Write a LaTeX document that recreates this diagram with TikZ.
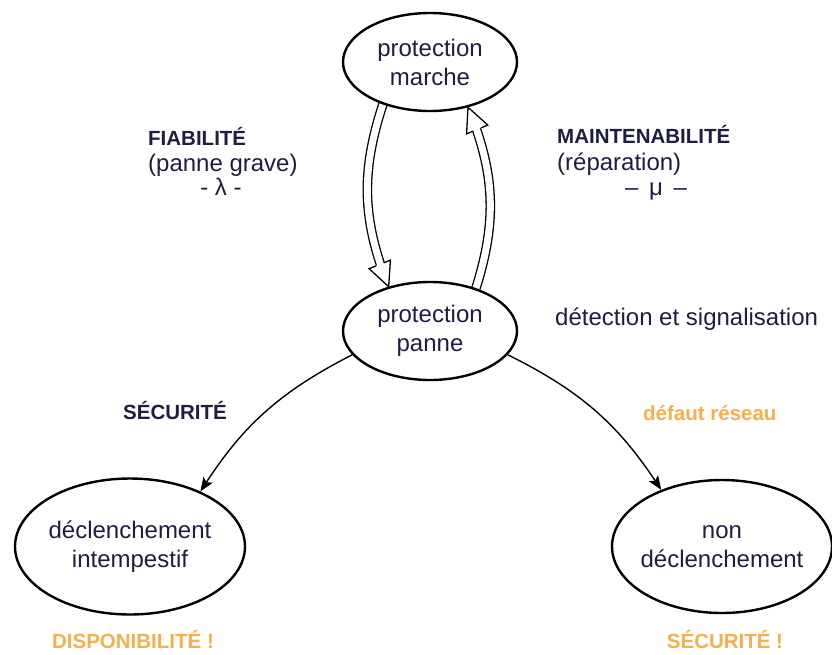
\documentclass[tikz,border=0pt]{standalone}
\usepackage{fontspec}
\setmainfont{Liberation Sans}
\usetikzlibrary{shapes.geometric,arrows.meta,decorations.markings,backgrounds,positioning}

\definecolor{ink}{RGB}{30,30,65}
\definecolor{warn}{RGB}{245,175,75}

\tikzset{
  state/.style={ellipse, draw=black, line width=2.4pt, inner sep=0pt, inner xsep=-12pt,
    font=\fontsize{24}{29}\selectfont, text=ink, align=center},
  txt/.style={font=\fontsize{24}{25}\selectfont, text=ink, inner sep=0pt},
  tag/.style={font=\bfseries\fontsize{20.5}{22}\selectfont, text=ink, inner sep=0pt},
  alert/.style={tag, text=warn},
  flow/.style={line width=1.4pt, -{Stealth[length=14pt, width=11pt, inset=3pt]}},
  % double transition: black band, white core, hollow head
  dbl/.style={draw=white, line width=7pt, preaction={draw=black, line width=9.6pt},
    decoration={markings, mark=at position 1 with {
      \fill[white] (-24pt,-5.6pt) rectangle (0pt,5.6pt);
      \draw[black, line width=1.3pt, line join=miter]
        (-24pt,4.15pt) -- (-24pt,11.5pt) -- (0pt,0pt) -- (-24pt,-11.5pt) -- (-24pt,-4.15pt);
    }},
    postaction={decorate}}
}

\begin{document}
\begin{tikzpicture}[x=1pt, y=-1pt]
\useasboundingbox (0,0) rectangle (832,654);

% states
\node[state, minimum width=174pt, minimum height=98pt] (marche) at (430,62) {protection\\marche};
\node[state, minimum width=174pt, minimum height=98pt] (panne) at (430,331) {protection\\panne};
\node[state, minimum width=230pt, minimum height=136pt] (intemp) at (130,546.5) {déclenchement\\intempestif};
\node[state, minimum width=220pt, minimum height=133pt] (nondecl) at (722,546.5) {non\\déclenchement};

% labels
\node[tag, anchor=base west] (fiab) at (148,145) {FIABILITÉ};
\node[txt, anchor=base west] (fiabcause) at (148,171.5) {(panne grave)};
\node[txt, anchor=base] (lambda) at (221,195) {- λ -};
\node[tag, anchor=base west] (maint) at (557,143) {MAINTENABILITÉ};
\node[txt, anchor=base west] (maintcause) at (557,170) {(réparation)};
\node[txt, anchor=base] (mu) at (656,195) {–\, μ \,–};
\node[txt, anchor=base west] (detect) at (555,325) {détection et signalisation};
\node[tag, anchor=base west] (secu) at (123,419) {SÉCURITÉ};
\node[alert, anchor=base west] (defaut) at (643,420) {défaut réseau};
\node[alert, anchor=base] (dispo) at (133,648) {DISPONIBILITÉ !};
\node[alert, anchor=base] (secufin) at (725,648) {SÉCURITÉ !};

% transitions
\draw[flow] (panne.197) to[bend right=15] (intemp.38);
\draw[flow] (panne.-17) to[bend left=15] (nondecl.137);
\begin{scope}[on background layer]
  \draw[dbl] (marche.222) to[bend right=20] (panne.133);
  \draw[dbl] (panne.43) to[bend right=20] (marche.-50);
\end{scope}
\end{tikzpicture}
\end{document}
